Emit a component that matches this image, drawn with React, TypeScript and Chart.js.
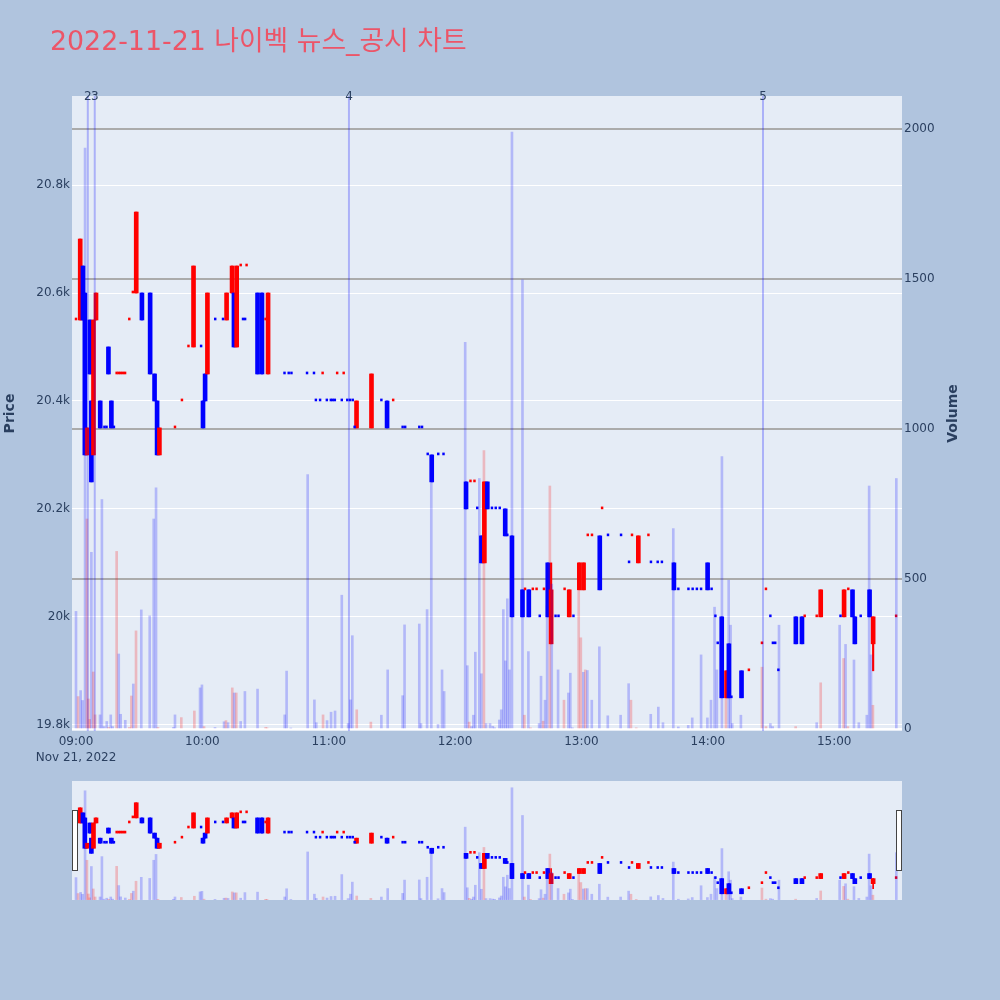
import React, { useEffect, useRef } from 'react';
import { Chart, registerables } from 'chart.js';

Chart.register(...registerables);

const TITLE = '2022-11-21 나이벡 뉴스_공시 차트';

// minutes after 09:00
const candleT = [0, 2, 3.3, 4.2, 5.3, 6.6, 7.3, 8.3, 9.5, 11.5, 13.5, 14.5, 15.4, 16.8, 18, 19.3, 20.3, 21.3, 22.3, 23.3, 25.3, 27, 28.6, 31.3, 35.2, 37.3, 38.5, 39.6, 47, 50.3, 53.4, 55.8, 59.4, 60.3, 61.3, 62.4, 66.1, 69.8, 71.5, 74.1, 75, 76.3, 78.2, 79.3, 80.3, 81, 86.2, 88.3, 90, 91.2, 99, 101, 102.3, 109.7, 113, 113.9, 115.9, 117.1, 119.1, 121, 121.9, 122.9, 124, 126.2, 127.1, 128.8, 130.1, 131.4, 132.3, 133.2, 140.3, 145, 147.7, 150.6, 155.1, 156.3, 163, 164.3, 167, 168.9, 172, 174.5, 185.2, 187.3, 189.2, 190.5, 192.5, 193.9, 195.3, 197.5, 199.3, 201.2, 203.8, 204.8, 207, 212, 213.2, 215, 216.9, 218.7, 220.2, 222.2, 224, 225.6, 227.7, 229.1, 232, 234.2, 236.2, 239, 241, 243, 245, 248.7, 249.8, 252.6, 258.8, 262.6, 264, 267, 271.8, 273, 276.2, 278.2, 283.9, 286, 290.8, 292.8, 294.8, 296.8, 299.9, 301.8, 303.6, 304.7, 306.6, 308.9, 310, 311.2, 316, 319.5, 325.7, 327.6, 329.7, 330.9, 332, 333.5, 341.8, 344.7, 346, 351.7, 353.6, 363, 364.7, 366.7, 368.7, 369.8, 372.6, 376.8, 378.5, 389.4];
const candleO = [20550, 20550, 20650, 20600, 20300, 20550, 20400, 20300, 20550, 20400, 20350, 20350, 20500, 20400, 20350, 20450, 20450, 20450, 20450, 20450, 20550, 20600, 20600, 20600, 20600, 20450, 20400, 20300, 20350, 20400, 20500, 20500, 20500, 20400, 20450, 20450, 20550, 20550, 20550, 20600, 20600, 20500, 20650, 20550, 20550, 20650, 20600, 20600, 20550, 20450, 20450, 20450, 20450, 20450, 20450, 20400, 20400, 20450, 20400, 20400, 20400, 20400, 20450, 20400, 20450, 20400, 20400, 20400, 20350, 20350, 20350, 20400, 20400, 20400, 20350, 20350, 20350, 20350, 20300, 20300, 20300, 20300, 20250, 20250, 20250, 20200, 20150, 20100, 20250, 20200, 20200, 20200, 20200, 20150, 20150, 20050, 20050, 20050, 20050, 20050, 20000, 20050, 20100, 19950, 20000, 20000, 20050, 20000, 20000, 20050, 20050, 20150, 20150, 20150, 20200, 20150, 20150, 20100, 20150, 20100, 20150, 20100, 20100, 20100, 20100, 20050, 20050, 20050, 20050, 20050, 20100, 20050, 20000, 19950, 20000, 19850, 19950, 19850, 19900, 19900, 19950, 20050, 20000, 19950, 19950, 19900, 20000, 20000, 20000, 20000, 20000, 20000, 20000, 20050, 20050, 20000, 20000, 20050, 19950, 20000];
const candleH = [20550, 20700, 20650, 20600, 20350, 20550, 20400, 20550, 20600, 20400, 20350, 20350, 20500, 20400, 20350, 20450, 20450, 20450, 20450, 20450, 20550, 20600, 20750, 20600, 20600, 20450, 20400, 20350, 20350, 20400, 20500, 20650, 20500, 20400, 20450, 20600, 20550, 20550, 20600, 20650, 20600, 20650, 20650, 20550, 20550, 20650, 20600, 20600, 20550, 20600, 20450, 20450, 20450, 20450, 20450, 20400, 20400, 20450, 20400, 20400, 20400, 20400, 20450, 20400, 20450, 20400, 20400, 20400, 20350, 20400, 20450, 20400, 20400, 20400, 20350, 20350, 20350, 20350, 20300, 20300, 20300, 20300, 20250, 20250, 20250, 20200, 20150, 20250, 20250, 20200, 20200, 20200, 20200, 20150, 20150, 20050, 20050, 20050, 20050, 20050, 20000, 20050, 20100, 20100, 20000, 20000, 20050, 20050, 20000, 20100, 20100, 20150, 20150, 20150, 20200, 20150, 20150, 20100, 20150, 20150, 20150, 20100, 20100, 20100, 20100, 20050, 20050, 20050, 20050, 20050, 20100, 20050, 20000, 19950, 20000, 19900, 19950, 19850, 19900, 19900, 19950, 20050, 20000, 19950, 19950, 19900, 20000, 20000, 20000, 20000, 20050, 20000, 20050, 20050, 20050, 20000, 20000, 20050, 20000, 20000];
const candleL = [20550, 20550, 20550, 20300, 20300, 20450, 20250, 20300, 20550, 20350, 20350, 20350, 20450, 20350, 20350, 20450, 20450, 20450, 20450, 20450, 20550, 20600, 20600, 20550, 20450, 20400, 20300, 20300, 20350, 20400, 20500, 20500, 20500, 20350, 20400, 20450, 20550, 20550, 20550, 20600, 20500, 20500, 20650, 20550, 20550, 20650, 20450, 20450, 20550, 20450, 20450, 20450, 20450, 20450, 20450, 20400, 20400, 20450, 20400, 20400, 20400, 20400, 20450, 20400, 20450, 20400, 20400, 20400, 20350, 20350, 20350, 20400, 20350, 20400, 20350, 20350, 20350, 20350, 20300, 20250, 20300, 20300, 20200, 20250, 20250, 20200, 20100, 20100, 20200, 20200, 20200, 20200, 20150, 20150, 20000, 20000, 20050, 20000, 20050, 20050, 20000, 20050, 20000, 19950, 20000, 20000, 20050, 20000, 20000, 20050, 20050, 20150, 20150, 20050, 20200, 20150, 20150, 20100, 20150, 20100, 20150, 20100, 20100, 20100, 20050, 20050, 20050, 20050, 20050, 20050, 20050, 20050, 20000, 19950, 19850, 19850, 19850, 19850, 19850, 19900, 19950, 20050, 20000, 19950, 19950, 19900, 19950, 19950, 20000, 20000, 20000, 20000, 20000, 20050, 20000, 19950, 20000, 20000, 19900, 20000];
const candleC = [20550, 20700, 20550, 20300, 20350, 20450, 20250, 20550, 20600, 20350, 20350, 20350, 20450, 20350, 20350, 20450, 20450, 20450, 20450, 20450, 20550, 20600, 20750, 20550, 20450, 20400, 20300, 20350, 20350, 20400, 20500, 20650, 20500, 20350, 20400, 20600, 20550, 20550, 20600, 20650, 20500, 20650, 20650, 20550, 20550, 20650, 20450, 20450, 20550, 20600, 20450, 20450, 20450, 20450, 20450, 20400, 20400, 20450, 20400, 20400, 20400, 20400, 20450, 20400, 20450, 20400, 20400, 20400, 20350, 20400, 20450, 20400, 20350, 20400, 20350, 20350, 20350, 20350, 20300, 20250, 20300, 20300, 20200, 20250, 20250, 20200, 20100, 20250, 20200, 20200, 20200, 20200, 20150, 20150, 20000, 20000, 20050, 20000, 20050, 20050, 20000, 20050, 20000, 20050, 20000, 20000, 20050, 20050, 20000, 20100, 20100, 20150, 20150, 20050, 20200, 20150, 20150, 20100, 20150, 20150, 20150, 20100, 20100, 20100, 20050, 20050, 20050, 20050, 20050, 20050, 20050, 20050, 20000, 19950, 19850, 19900, 19850, 19850, 19850, 19900, 19950, 20050, 20000, 19950, 19950, 19900, 19950, 19950, 20000, 20000, 20050, 20000, 20050, 20050, 20000, 19950, 20000, 20000, 20000, 20000];
// 1 = rising (red), 0 = falling (blue)
const candleUp = [1, 1, 0, 0, 1, 0, 0, 1, 1, 0, 0, 0, 0, 0, 0, 1, 1, 1, 1, 1, 1, 1, 1, 0, 0, 0, 0, 1, 1, 1, 1, 1, 0, 0, 0, 1, 0, 0, 1, 1, 0, 1, 1, 0, 0, 1, 0, 0, 1, 1, 0, 0, 0, 0, 0, 0, 0, 1, 0, 0, 0, 0, 1, 0, 1, 0, 0, 0, 0, 1, 1, 0, 0, 1, 0, 0, 0, 0, 0, 0, 0, 0, 0, 1, 1, 0, 0, 1, 0, 0, 0, 0, 0, 0, 0, 0, 1, 0, 1, 1, 0, 1, 0, 1, 0, 0, 1, 1, 0, 1, 1, 1, 1, 0, 1, 0, 0, 0, 1, 1, 1, 0, 0, 0, 0, 0, 0, 0, 0, 0, 0, 0, 0, 0, 0, 1, 0, 0, 0, 1, 1, 1, 0, 0, 0, 0, 0, 0, 1, 1, 1, 0, 1, 1, 0, 0, 0, 0, 1, 1];

const volT = [0, 1, 2.2, 3.1, 4.3, 5.2, 5.9, 6.5, 7.3, 8.2, 9.1, 11.4, 12.3, 13.3, 14.6, 15.5, 16.5, 17.4, 19.3, 20.3, 21.2, 23.4, 25.3, 26.3, 27.2, 28.5, 31, 35, 36.9, 38, 38.9, 46.2, 47, 50, 56.2, 58.9, 59.8, 60.8, 66, 70.3, 71.2, 72.2, 74.2, 75.1, 76.1, 78.2, 80.2, 86.2, 90, 90.7, 99.1, 100, 102, 110, 113.2, 114.1, 117.3, 119.2, 121.1, 123, 126.2, 129.2, 130.3, 131.2, 133.3, 140, 145, 148, 155.1, 156, 163, 163.8, 166.7, 168.7, 171.9, 173.8, 174.8, 184.8, 185.8, 186.7, 187.8, 188.7, 189.6, 191.5, 192.5, 193.7, 194.7, 196.6, 197.9, 198.8, 201, 201.9, 202.9, 203.9, 204.8, 205.8, 207, 212, 212.9, 214.8, 215.8, 219.9, 220.8, 221.8, 222.7, 223.7, 225, 225.9, 228.9, 231.7, 233.8, 234.7, 235.7, 238.7, 239.7, 240.9, 241.8, 242.8, 244.9, 248.5, 252.5, 258.6, 262.4, 263.5, 266, 272.9, 276.5, 278.7, 283.6, 286, 290.7, 292.6, 296.8, 299.8, 301.5, 303.2, 304.3, 306.7, 308.6, 309.9, 310.8, 311.6, 315.7, 325.7, 327.6, 329.7, 330.8, 333.8, 341.7, 351.7, 353.6, 362.6, 364.5, 365.4, 366.5, 369.4, 371.7, 375.5, 376.6, 377.5, 378.4, 389.5];
const volV = [392, 108, 128, 95, 1936, 700, 100, 32, 589, 190, 47, 47, 765, 8, 25, 5, 47, 8, 592, 250, 49, 29, 5, 110, 150, 327, 397, 377, 700, 804, 5, 5, 47, 38, 60, 137, 147, 8, 5, 24, 28, 21, 137, 120, 120, 25, 125, 133, 5, 4, 47, 193, 3, 848, 97, 21, 47, 28, 56, 60, 446, 18, 97, 311, 64, 23, 46, 197, 111, 347, 350, 18, 398, 821, 15, 197, 125, 1289, 211, 23, 8, 46, 256, 835, 184, 928, 18, 18, 9, 4, 30, 64, 398, 227, 434, 197, 1990, 1497, 46, 258, 4, 18, 176, 26, 96, 410, 810, 483, 197, 96, 120, 186, 4, 460, 304, 189, 197, 195, 96, 274, 44, 46, 151, 96, 4, 49, 73, 21, 668, 7, 12, 37, 247, 37, 96, 406, 197, 908, 193, 496, 346, 18, 46, 206, 8, 18, 8, 346, 8, 21, 154, 346, 235, 282, 8, 230, 21, 46, 810, 247, 79, 835];
const volUp = [0, 1, 0, 0, 0, 1, 1, 1, 0, 1, 1, 0, 0, 0, 0, 1, 0, 0, 1, 0, 0, 0, 1, 1, 0, 1, 0, 0, 0, 0, 1, 0, 0, 1, 1, 0, 0, 1, 0, 0, 1, 0, 1, 0, 1, 0, 0, 0, 1, 1, 0, 0, 0, 0, 0, 0, 1, 0, 0, 0, 0, 0, 0, 0, 1, 1, 0, 0, 0, 0, 0, 0, 0, 0, 0, 0, 0, 0, 0, 1, 0, 0, 0, 0, 0, 1, 0, 0, 0, 0, 0, 0, 0, 0, 0, 0, 0, 0, 1, 0, 1, 0, 0, 1, 0, 0, 1, 0, 0, 1, 0, 0, 0, 1, 1, 0, 1, 0, 0, 0, 0, 0, 0, 1, 1, 0, 0, 0, 0, 0, 0, 0, 0, 0, 0, 0, 0, 0, 1, 0, 0, 0, 0, 1, 1, 0, 0, 0, 1, 0, 1, 0, 1, 0, 1, 0, 0, 0, 0, 0, 1, 0];

const newsT = [5.6, 8.9, 129.6, 326.2];
const newsLabels = ['2', '3', '4', '5'];

const hourTicks = [0, 60, 120, 180, 240, 300, 360];
const hourLabels = ['09:00', '10:00', '11:00', '12:00', '13:00', '14:00', '15:00'];
const dateLabel = 'Nov 21, 2022';
const priceTicks = [19800, 20000, 20200, 20400, 20600, 20800];
const volTicks = [0, 500, 1000, 1500, 2000];

const X_MIN = -1.9;
const X_MAX = 392.2;
const P_MIN = 19788.5;
const P_MAX = 20965;
const V_MIN = -6.7;
const V_MAX = 2110;

const UP = '#FF0000';
const DOWN = '#0000FF';
const UP_VOL = 'rgba(255,0,0,0.22)';
const DOWN_VOL = 'rgba(0,0,255,0.22)';
const NEWS = 'rgba(0,0,255,0.25)';
const AXIS_TEXT = '#2a3f5f';
const TITLE_COLOR = 'rgb(236,85,104)';
const PLOT_BG = '#E5ECF6';
const PAPER_BG = '#B0C4DE';
const FONT = '"DejaVu Sans", "Noto Sans CJK KR", sans-serif';

Chart.defaults.font.family = FONT;
Chart.defaults.font.size = 12;
Chart.defaults.color = AXIS_TEXT;

function candleSets(bodyW: number, wickW: number, dojiW: number) {
  const idx = candleT.map((_t, i) => i);
  const isDoji = (i: number) => candleO[i] === candleC[i];
  const bodyIdx = idx.filter((i) => !isDoji(i));
  const dojiIdx = idx.filter((i) => isDoji(i));
  const color = (i: number) => (candleUp[i] ? UP : DOWN);
  return [
    {
      type: 'bar',
      label: 'wick',
      data: bodyIdx.map((i) => ({ x: candleT[i], y: [candleL[i], candleH[i]] })),
      backgroundColor: bodyIdx.map(color),
      barThickness: wickW,
      grouped: false,
      xAxisID: 'x',
      yAxisID: 'y',
      order: 4,
    },
    {
      type: 'bar',
      label: 'body',
      data: bodyIdx.map((i) => ({ x: candleT[i], y: [candleO[i], candleC[i]] })),
      backgroundColor: bodyIdx.map(color),
      barThickness: bodyW,
      grouped: false,
      xAxisID: 'x',
      yAxisID: 'y',
      order: 3,
    },
    {
      type: 'bar',
      label: 'doji',
      data: dojiIdx.map((i) => ({ x: candleT[i], y: [candleO[i], candleC[i]] })),
      backgroundColor: dojiIdx.map(color),
      barThickness: dojiW,
      minBarLength: 2,
      grouped: false,
      xAxisID: 'x',
      yAxisID: 'y',
      order: 2,
    },
  ];
}

function volumeSet(w: number) {
  return {
    type: 'bar',
    label: 'volume',
    data: volT.map((t, i) => ({ x: t, y: volV[i] })),
    backgroundColor: volUp.map((u) => (u ? UP_VOL : DOWN_VOL)),
    barThickness: w,
    grouped: false,
    xAxisID: 'x',
    yAxisID: 'y2',
    order: 1,
  };
}

function newsSet() {
  const pts: any[] = [];
  newsT.forEach((t) => {
    pts.push({ x: t, y: V_MIN }, { x: t, y: V_MAX }, { x: t, y: null });
  });
  return {
    type: 'line',
    label: 'news',
    data: pts,
    borderColor: NEWS,
    borderWidth: 2,
    pointRadius: 0,
    spanGaps: false,
    xAxisID: 'x',
    yAxisID: 'y2',
    order: 0,
  };
}

const mainDecor = {
  id: 'mainDecor',
  beforeDraw(chart: any) {
    const { ctx, chartArea } = chart;
    ctx.save();
    ctx.fillStyle = PLOT_BG;
    ctx.fillRect(chartArea.left, chartArea.top, chartArea.right - chartArea.left, chartArea.bottom - chartArea.top);
    ctx.restore();
  },
  afterDraw(chart: any) {
    const { ctx, chartArea } = chart;
    const xs = chart.scales.x;
    ctx.save();
    // chart title
    ctx.fillStyle = TITLE_COLOR;
    ctx.font = '26.8px ' + FONT;
    ctx.textAlign = 'left';
    ctx.textBaseline = 'alphabetic';
    ctx.fillText(TITLE, 50, 50);
    // news markers labels
    ctx.fillStyle = AXIS_TEXT;
    ctx.font = '12px ' + FONT;
    ctx.textAlign = 'center';
    ctx.textBaseline = 'middle';
    newsT.forEach((t, i) => {
      ctx.fillText(newsLabels[i], xs.getPixelForValue(t), chartArea.top + 1);
    });
    // right axis title
    ctx.translate(chartArea.right + 51, (chartArea.top + chartArea.bottom) / 2);
    ctx.rotate(-Math.PI / 2);
    ctx.font = 'bold 14px ' + FONT;
    ctx.fillStyle = AXIS_TEXT;
    ctx.textAlign = 'center';
    ctx.textBaseline = 'middle';
    ctx.fillText('Volume', 0, 0);
    ctx.restore();
  },
};

const sliderDecor = {
  id: 'sliderDecor',
  beforeDraw(chart: any) {
    const { ctx, chartArea } = chart;
    ctx.save();
    ctx.fillStyle = PLOT_BG;
    ctx.fillRect(chartArea.left, chartArea.top, chartArea.right - chartArea.left, chartArea.bottom - chartArea.top);
    ctx.restore();
  },
  afterDraw(chart: any) {
    const { ctx, chartArea } = chart;
    const mid = (chartArea.top + chartArea.bottom) / 2;
    ctx.save();
    ctx.fillStyle = '#FFFFFF';
    ctx.strokeStyle = '#444444';
    ctx.lineWidth = 1;
    [chartArea.left + 0.5, chartArea.right - 5.5].forEach((x) => {
      ctx.fillRect(x, mid - 30, 5, 60);
      ctx.strokeRect(x, mid - 30, 5, 60);
    });
    ctx.restore();
  },
};

function mainConfig(): any {
  return {
    type: 'bar',
    data: { datasets: [newsSet(), volumeSet(2), ...candleSets(4, 1.5, 1.8)] },
    options: {
      responsive: false,
      animation: false,
      events: [],
      layout: { padding: { top: 96, left: 0, right: 0, bottom: 0 } },
      plugins: { legend: { display: false }, tooltip: { enabled: false }, title: { display: false } },
      scales: {
        x: {
          type: 'linear',
          position: 'bottom',
          min: X_MIN,
          max: X_MAX,
          offset: false,
          grid: { display: false, drawTicks: false, offset: false },
          border: { display: false },
          afterBuildTicks: (s: any) => {
            s.ticks = hourTicks.map((v) => ({ value: v }));
          },
          ticks: {
            autoSkip: false,
            maxRotation: 0,
            padding: 3,
            color: AXIS_TEXT,
            font: { size: 12, lineHeight: 1.3 },
            callback: (_v: any, i: number) => (i === 0 ? [hourLabels[0], dateLabel] : hourLabels[i]),
          },
          afterFit: (s: any) => {
            s.height = 44;
          },
        },
        y: {
          type: 'linear',
          position: 'left',
          min: P_MIN,
          max: P_MAX,
          grid: { color: '#FFFFFF', lineWidth: 1, drawTicks: false },
          border: { display: false },
          afterBuildTicks: (s: any) => {
            s.ticks = priceTicks.map((v) => ({ value: v }));
          },
          ticks: {
            padding: 2,
            color: AXIS_TEXT,
            font: { size: 12 },
            callback: (v: any) => `${+(Number(v) / 1000).toFixed(1)}k`,
          },
          title: {
            display: true,
            text: 'Price',
            color: AXIS_TEXT,
            font: { size: 14, weight: 'bold' },
            padding: { top: 2, bottom: 0 },
          },
          afterFit: (s: any) => {
            s.width = 72;
          },
        },
        y2: {
          type: 'linear',
          position: 'right',
          min: V_MIN,
          max: V_MAX,
          grid: {
            color: (c: any) => (c.tick && c.tick.value === 0 ? '#FFFFFF' : '#ABABAB'),
            lineWidth: 2,
            drawTicks: false,
          },
          border: { display: false },
          afterBuildTicks: (s: any) => {
            s.ticks = volTicks.map((v) => ({ value: v }));
          },
          ticks: {
            padding: 2,
            color: AXIS_TEXT,
            font: { size: 12 },
            callback: (v: any) => String(v),
          },
          afterFit: (s: any) => {
            s.width = 98;
          },
        },
      },
    },
    plugins: [mainDecor],
  };
}

function sliderConfig(): any {
  return {
    type: 'bar',
    data: { datasets: [volumeSet(2), ...candleSets(4, 1, 1.8)] },
    options: {
      responsive: false,
      animation: false,
      events: [],
      layout: { padding: { left: 72, right: 98, top: 6, bottom: 100 } },
      plugins: { legend: { display: false }, tooltip: { enabled: false }, title: { display: false } },
      scales: {
        x: { type: 'linear', display: false, min: X_MIN, max: X_MAX, offset: false, grid: { offset: false } },
        y: { type: 'linear', display: false, min: P_MIN, max: P_MAX },
        y2: { type: 'linear', display: false, min: V_MIN, max: V_MAX },
      },
    },
    plugins: [sliderDecor],
  };
}

export default function App() {
  const mainRef = useRef<HTMLCanvasElement | null>(null);
  const sliderRef = useRef<HTMLCanvasElement | null>(null);

  useEffect(() => {
    const main = new Chart(mainRef.current as HTMLCanvasElement, mainConfig());
    const slider = new Chart(sliderRef.current as HTMLCanvasElement, sliderConfig());
    return () => {
      main.destroy();
      slider.destroy();
    };
  }, []);

  return (
    <div style={{ position: 'absolute', left: 0, top: 0, width: 1000, height: 1000, background: PAPER_BG, overflow: 'hidden' }}>
      <canvas ref={mainRef} width={1000} height={775} style={{ position: 'absolute', left: 0, top: 0, width: 1000, height: 775 }} />
      <canvas ref={sliderRef} width={1000} height={225} style={{ position: 'absolute', left: 0, top: 775, width: 1000, height: 225 }} />
    </div>
  );
}
